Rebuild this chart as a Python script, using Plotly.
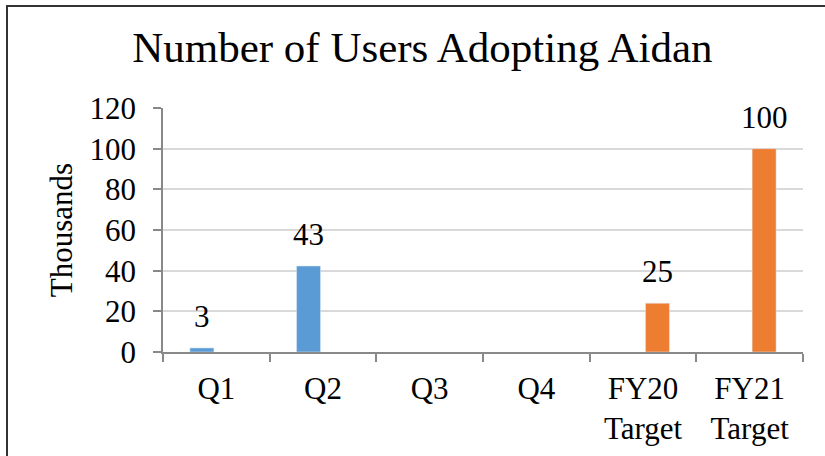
import plotly.graph_objects as go

categories = ["Q1", "Q2", "Q3", "Q4", "FY20<br>Target", "FY21<br>Target"]
actual_values = [2, 42.3, None, None, None, None]
actual_labels = ["3", "43", "", "", "", ""]
target_values = [None, None, None, None, 24, 100]
target_labels = ["", "", "", "", "25", "100"]
y_ticks = [0, 20, 40, 60, 80, 100, 120]

FONT = "Liberation Serif, Times New Roman, serif"
BLUE = "#5B9BD5"
ORANGE = "#ED7D31"

fig = go.Figure()
fig.add_trace(go.Bar(x=categories, y=actual_values, marker_color=BLUE, name="Actual"))
fig.add_trace(go.Bar(x=categories, y=target_values, marker_color=ORANGE, name="Target"))

annotations = []
for cat, v, lab in zip(categories, actual_values, actual_labels):
    if v is not None:
        annotations.append(dict(x=cat, y=v, text=lab, xref="x", yref="y", showarrow=False,
                                xshift=-14.5, yshift=12, yanchor="bottom",
                                font=dict(family=FONT, size=31, color="black")))
for cat, v, lab in zip(categories, target_values, target_labels):
    if v is not None:
        annotations.append(dict(x=cat, y=v, text=lab, xref="x", yref="y", showarrow=False,
                                xshift=14.5, yshift=12, yanchor="bottom",
                                font=dict(family=FONT, size=31, color="black")))

fig.update_layout(
    width=825, height=456,
    margin=dict(l=163, r=22, t=108, b=104, autoexpand=False),
    paper_bgcolor="white", plot_bgcolor="white",
    barmode="group", bargap=0.458, bargroupgap=0.17,
    showlegend=False,
    font=dict(family=FONT, size=31, color="black"),
    title=dict(text="Number of Users Adopting Aidan", x=0.512, xref="container", xanchor="center",
               y=0.897, yref="container", yanchor="middle",
               font=dict(family=FONT, size=43, color="black")),
    annotations=annotations,
    shapes=[dict(type="rect", xref="paper", yref="paper",
                 x0=(7 - 163) / 640, x1=(900 - 163) / 640,
                 y0=-1.0, y1=(352 - 6) / 244,
                 line=dict(color="#333333", width=2), fillcolor="rgba(0,0,0,0)", layer="above")],
)
fig.update_yaxes(range=[0, 120], tickvals=y_ticks, showgrid=True, gridcolor="#D9D9D9", gridwidth=1.5,
                 showline=True, linecolor="#898989", linewidth=1.5, ticks="outside", ticklen=8,
                 tickcolor="#898989", tickwidth=1.5, ticklabelstandoff=11, zeroline=False,
                 automargin=False,
                 title=dict(text="Thousands", font=dict(family=FONT, size=31), standoff=8),
                 tickfont=dict(family=FONT, size=31))
fig.update_xaxes(showline=True, linecolor="#898989", linewidth=1.5, ticks="outside", ticklen=8,
                 tickcolor="#898989", tickwidth=1.5, tickson="boundaries", showgrid=False,
                 automargin=False,
                 tickfont=dict(family=FONT, size=31), ticklabelstandoff=8, tickangle=0)

fig.write_html("out.html", config={"displayModeBar": False},
               post_script="document.body.style.margin='0px';")
